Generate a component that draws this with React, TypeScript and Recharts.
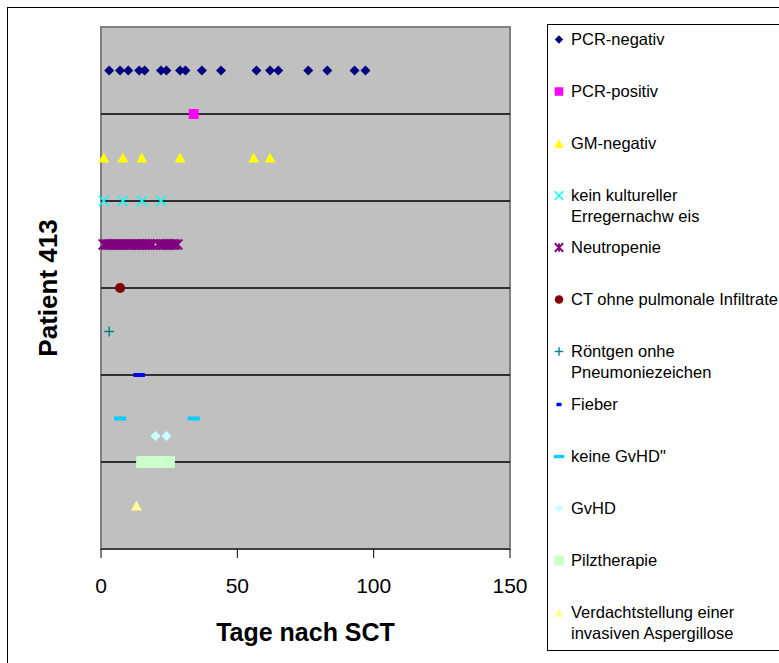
import { ReferenceArea, ReferenceLine, Scatter, ScatterChart, XAxis, YAxis } from "recharts";

const xTicks = [0, 50, 100, 150];
const yTicks = [0, 2, 4, 6, 8, 10, 12];
const gridRows = [2, 4, 6, 8, 10];

// days after SCT, one list per finding
const pcrNegativ = [3, 7, 10, 14, 16, 22, 24, 29, 31, 37, 44, 57, 62, 65, 76, 83, 93, 97];
const pcrPositiv = [34];
const gmNegativ = [1, 8, 15, 29, 56, 62];
const keinKultureller = [1, 8, 15, 22];
const neutropenie = [1, 2, 3, 4, 5, 6, 7, 8, 9, 10, 11, 12, 13, 14, 15, 16, 17, 18, 19, 21, 22, 23, 24, 25, 26, 27, 28];
const ctOhneInfiltrate = [7];
const roentgen = [3];
const fieber = [13, 14, 15];
const keineGvhd = [7, 34];
const gvhd = [20, 24];
const pilztherapie = [15, 16, 17, 18, 19, 20, 21, 22, 23, 24, 25];
const verdacht = [13];

// row (y value) of each finding
const rows = [11, 10, 9, 8, 7, 6, 5, 4, 3, 2.6, 2, 1];

const labels = [
	["PCR-negativ"],
	["PCR-positiv"],
	["GM-negativ"],
	["kein kultureller", "Erregernachw eis"],
	["Neutropenie"],
	["CT ohne pulmonale Infiltrate"],
	["Röntgen onhe", "Pneumoniezeichen"],
	["Fieber"],
	["keine GvHD\""],
	["GvHD"],
	["Pilztherapie"],
	["Verdachtstellung einer", "invasiven Aspergillose"],
];

type Kind = "diamond" | "square" | "triangle" | "cross" | "star" | "circle" | "plus" | "dash";

type MarkerStyle = { kind: Kind; color: string; w: number; h: number };

const styles: MarkerStyle[] = [
	{ kind: "diamond", color: "#000080", w: 10, h: 10 },
	{ kind: "square", color: "#FF00FF", w: 10, h: 10 },
	{ kind: "triangle", color: "#FFFF00", w: 11, h: 10 },
	{ kind: "cross", color: "#00FFFF", w: 10, h: 10 },
	{ kind: "star", color: "#800080", w: 10, h: 10 },
	{ kind: "circle", color: "#800000", w: 10, h: 10 },
	{ kind: "plus", color: "#008080", w: 10, h: 10 },
	{ kind: "dash", color: "#0000FF", w: 6, h: 4 },
	{ kind: "dash", color: "#00CCFF", w: 12, h: 4 },
	{ kind: "diamond", color: "#CCFFFF", w: 10, h: 10 },
	{ kind: "square", color: "#CCFFCC", w: 11.5, h: 11.5 },
	{ kind: "triangle", color: "#FFFF99", w: 11, h: 10 },
];

const seriesDays = [
	pcrNegativ,
	pcrPositiv,
	gmNegativ,
	keinKultureller,
	neutropenie,
	ctOhneInfiltrate,
	roentgen,
	fieber,
	keineGvhd,
	gvhd,
	pilztherapie,
	verdacht,
];

const font = "'Liberation Sans', Arial, sans-serif";

function Marker({ s, cx, cy, scale = 1 }: { s: MarkerStyle; cx: number; cy: number; scale?: number }) {
	const w = (s.w * scale) / 2;
	const h = (s.h * scale) / 2;
	switch (s.kind) {
		case "diamond":
			return <polygon points={`${cx},${cy - h} ${cx + w},${cy} ${cx},${cy + h} ${cx - w},${cy}`} fill={s.color} />;
		case "square":
		case "dash":
			return <rect x={cx - w} y={cy - h} width={w * 2} height={h * 2} fill={s.color} />;
		case "triangle":
			return <polygon points={`${cx},${cy - h} ${cx + w},${cy + h} ${cx - w},${cy + h}`} fill={s.color} />;
		case "circle":
			return <circle cx={cx} cy={cy} r={w} fill={s.color} />;
		case "cross":
			return (
				<g stroke={s.color} strokeWidth={1.6}>
					<line x1={cx - w} y1={cy - h} x2={cx + w} y2={cy + h} />
					<line x1={cx - w} y1={cy + h} x2={cx + w} y2={cy - h} />
				</g>
			);
		case "plus":
			return (
				<g stroke={s.color} strokeWidth={1.4}>
					<line x1={cx - w} y1={cy} x2={cx + w} y2={cy} />
					<line x1={cx} y1={cy - h} x2={cx} y2={cy + h} />
				</g>
			);
		case "star":
			return (
				<g stroke={s.color} strokeWidth={1.8}>
					<line x1={cx - w} y1={cy - h} x2={cx + w} y2={cy + h} />
					<line x1={cx - w} y1={cy + h} x2={cx + w} y2={cy - h} />
					<line x1={cx} y1={cy - h} x2={cx} y2={cy + h} />
				</g>
			);
	}
	return null;
}

function LegendBox() {
	return (
		<div
			style={{
				position: "absolute",
				left: 539,
				top: 16,
				width: 232,
				height: 627,
				boxSizing: "border-box",
				borderTop: "1px solid #000",
				borderLeft: "1px solid #000",
				borderBottom: "1px solid #000",
				background: "#fff",
				fontFamily: font,
				fontSize: 16.5,
				color: "#000",
			}}
		>
			{labels.map((lines, i) => (
				<div key={i} style={{ position: "absolute", left: 0, top: 3.8 + i * 52.1, width: 231 }}>
					<svg width={22} height={21} style={{ position: "absolute", left: 0, top: 0 }}>
						<Marker s={styles[i]} cx={11} cy={10.5} scale={0.85} />
					</svg>
					<div style={{ position: "absolute", left: 23, top: 0, lineHeight: "21px", whiteSpace: "nowrap" }}>
						{lines.map((t, j) => (
							<div key={j}>{t}</div>
						))}
					</div>
				</div>
			))}
		</div>
	);
}

export default function App() {
	return (
		<div
			style={{
				position: "absolute",
				left: 7,
				top: 7,
				width: 772,
				height: 656,
				boxSizing: "border-box",
				borderTop: "1px solid #000",
				borderLeft: "1px solid #000",
				background: "#fff",
				overflow: "hidden",
			}}
		>
			<ScatterChart width={771} height={655} margin={{ top: 19, right: 269, bottom: 19, left: 0 }}>
				<ReferenceArea x1={0} x2={150} y1={0} y2={12} fill="#C0C0C0" fillOpacity={1} stroke="none" ifOverflow="visible" />
				{gridRows.map((r) => (
					<ReferenceLine key={r} y={r} stroke="#000" strokeWidth={1.5} ifOverflow="visible" />
				))}
				<ReferenceArea x1={0} x2={150} y1={0} y2={12} fill="none" stroke="#808080" strokeWidth={2} ifOverflow="visible" />
				<XAxis
					type="number"
					dataKey="x"
					domain={[0, 150]}
					ticks={xTicks}
					interval={0}
					height={95}
					stroke="#000"
					tickSize={9}
					tickMargin={20}
					tick={{ fontSize: 21, fill: "#000", fontFamily: font }}
					label={({ viewBox }: any) => (
						<text
							x={viewBox.x + viewBox.width / 2}
							y={viewBox.y + 92}
							textAnchor="middle"
							fontFamily={font}
							fontSize={25}
							fontWeight="bold"
							fill="#000"
						>
							Tage nach SCT
						</text>
					)}
				/>
				<YAxis
					type="number"
					dataKey="y"
					domain={[0, 12]}
					ticks={yTicks}
					width={93}
					axisLine={false}
					tickLine={false}
					tick={false}
					label={({ viewBox }: any) => {
						const x = viewBox.x + 40;
						const y = viewBox.y + viewBox.height / 2;
						return (
							<text
								x={x}
								y={y}
								transform={`rotate(-90 ${x} ${y})`}
								textAnchor="middle"
								dominantBaseline="central"
								fontFamily={font}
								fontSize={26}
								fontWeight="bold"
								fill="#000"
							>
								Patient 413
							</text>
						);
					}}
				/>
				{seriesDays.map((days, i) => (
					<Scatter
						key={i}
						name={labels[i].join(" ")}
						data={days.map((d) => ({ x: d, y: rows[i] }))}
						isAnimationActive={false}
						shape={(p: any) => <Marker s={styles[i]} cx={p.cx} cy={p.cy} />}
					/>
				))}
			</ScatterChart>
			<LegendBox />
		</div>
	);
}
